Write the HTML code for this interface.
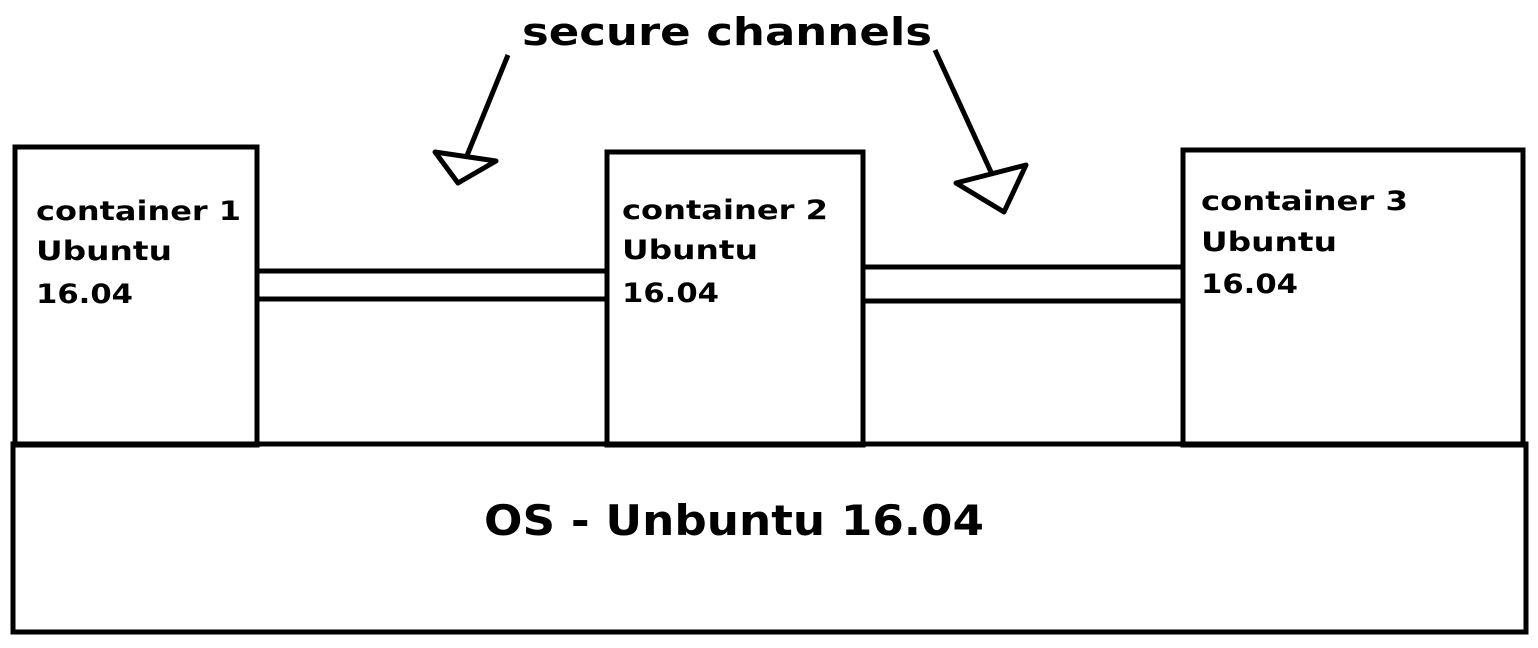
<!DOCTYPE html>
<html><head><meta charset="utf-8"><style>
html,body{margin:0;padding:0;background:#fff;width:1538px;height:648px;overflow:hidden}
text{font-family:"DejaVu Sans","Liberation Sans",sans-serif;font-weight:bold;fill:#000}
</style></head><body>
<svg width="1538" height="648" viewBox="0 0 1538 648" xmlns="http://www.w3.org/2000/svg">
<g fill="none" stroke="#000" stroke-width="5">
<rect x="15" y="147" width="242" height="298"/>
<rect x="607" y="152" width="256" height="293"/>
<rect x="1183" y="150" width="340" height="295"/>
<rect x="13" y="444" width="1513" height="188"/>
<line x1="257" y1="271" x2="606" y2="271"/>
<line x1="257" y1="299" x2="606" y2="299"/>
<line x1="863" y1="267" x2="1183" y2="267"/>
<line x1="863" y1="301" x2="1183" y2="301"/>
<line x1="508" y1="55" x2="466" y2="158"/>
<polygon points="435,152 496,161 458,183" stroke-linejoin="round"/>
<line x1="935" y1="50" x2="991" y2="172"/>
<polygon points="956,183 1026,165 1004,212" stroke-linejoin="round"/>
</g>
<text x="522" y="45" font-size="38" textLength="410" lengthAdjust="spacingAndGlyphs">secure channels</text>
<text x="36" y="220" font-size="27" textLength="205" lengthAdjust="spacingAndGlyphs">container 1</text>
<text x="36" y="260" font-size="27" textLength="136" lengthAdjust="spacingAndGlyphs">Ubuntu</text>
<text x="36" y="303" font-size="27" textLength="97" lengthAdjust="spacingAndGlyphs">16.04</text>
<text x="622" y="219" font-size="27" textLength="206" lengthAdjust="spacingAndGlyphs">container 2</text>
<text x="622" y="259" font-size="27" textLength="136" lengthAdjust="spacingAndGlyphs">Ubuntu</text>
<text x="622" y="302" font-size="27" textLength="97" lengthAdjust="spacingAndGlyphs">16.04</text>
<text x="1201" y="210" font-size="27" textLength="207" lengthAdjust="spacingAndGlyphs">container 3</text>
<text x="1201" y="251" font-size="27" textLength="136" lengthAdjust="spacingAndGlyphs">Ubuntu</text>
<text x="1201" y="293" font-size="27" textLength="97" lengthAdjust="spacingAndGlyphs">16.04</text>
<text x="484" y="535" font-size="42" textLength="500" lengthAdjust="spacingAndGlyphs">OS - Unbuntu 16.04</text>
</svg>
</body></html>
